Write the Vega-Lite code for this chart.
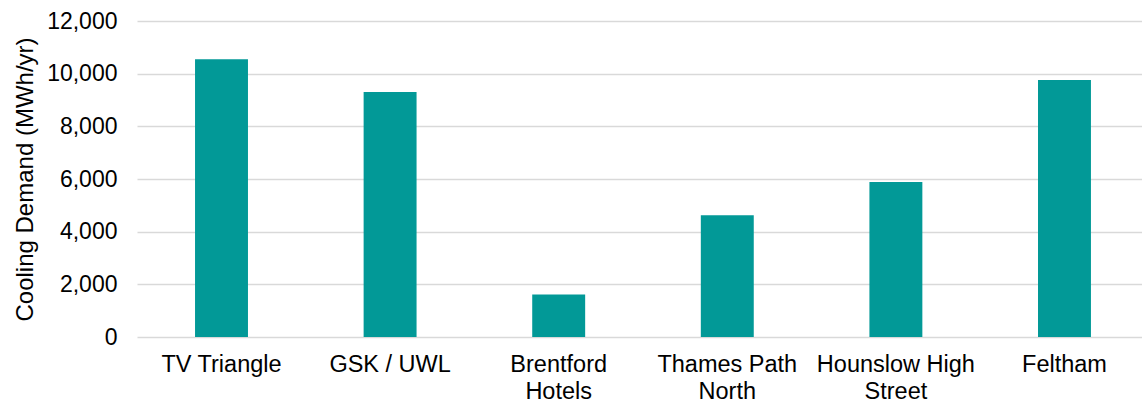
{
  "$schema": "https://vega.github.io/schema/vega-lite/v6.json",
  "autosize": {"type": "none"},
  "padding": {"left": 137, "top": 21, "right": 0, "bottom": 66},
  "width": 1005,
  "height": 316,
  "background": "white",
  "config": {
    "view": {"stroke": null},
    "font": "Liberation Sans",
    "axis": {"labelFont": "Liberation Sans", "titleFont": "Liberation Sans", "labelColor": "#000000", "titleColor": "#000000"}
  },
  "data": {
    "values": [
      {"site": "TV Triangle", "demand": 10550},
      {"site": "GSK / UWL", "demand": 9300},
      {"site": "Brentford Hotels", "demand": 1610},
      {"site": "Thames Path North", "demand": 4620},
      {"site": "Hounslow High Street", "demand": 5890},
      {"site": "Feltham", "demand": 9760}
    ]
  },
  "mark": {"type": "bar", "color": "#029997"},
  "encoding": {
    "x": {
      "field": "site",
      "type": "nominal",
      "sort": null,
      "scale": {"paddingInner": 0.686, "paddingOuter": 0.3235, "align": 0.532},
      "axis": {
        "title": null,
        "domain": false,
        "ticks": false,
        "labelAngle": 0,
        "labelFontSize": 23.5,
        "labelPadding": 15,
        "labelLineHeight": 27,
        "labelBaseline": "top",
        "labelExpr": "datum.value == 'Brentford Hotels' ? ['Brentford', 'Hotels'] : datum.value == 'Thames Path North' ? ['Thames Path', 'North'] : datum.value == 'Hounslow High Street' ? ['Hounslow High', 'Street'] : datum.value"
      }
    },
    "y": {
      "field": "demand",
      "type": "quantitative",
      "scale": {"domain": [0, 12000], "nice": false},
      "axis": {
        "title": "Cooling Demand (MWh/yr)",
        "titleFontSize": 24,
        "titleFontWeight": "normal",
        "titlePadding": 9,
        "values": [0, 2000, 4000, 6000, 8000, 10000, 12000],
        "format": ",d",
        "domain": false,
        "ticks": false,
        "labelFontSize": 23,
        "labelPadding": 20,
        "grid": true,
        "gridColor": "#d9d9d9",
        "gridWidth": 1.5
      }
    }
  }
}
